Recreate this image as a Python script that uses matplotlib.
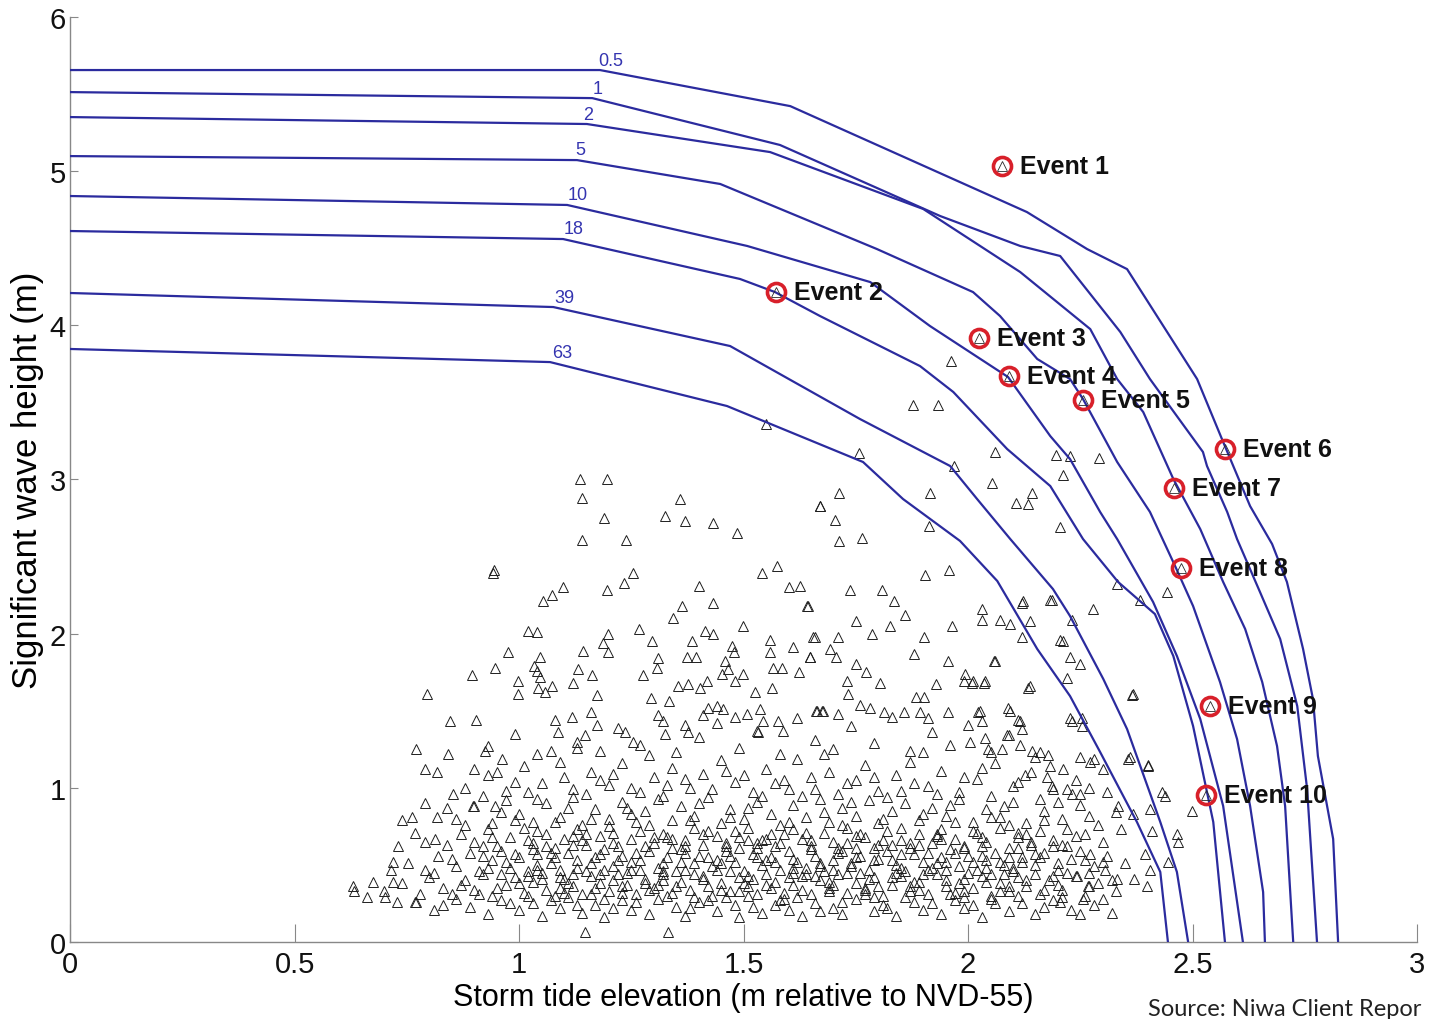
import numpy as np
import matplotlib.pyplot as plt

# joint return period contours (years) -> (storm tide m, Hs m)
curve_05 = [(0, 5.655), (1.180, 5.655), (1.604, 5.421), (2.131, 4.734), (2.265, 4.494), (2.354, 4.364),
            (2.510, 3.651), (2.568, 3.243), (2.628, 2.827), (2.677, 2.581), (2.710, 2.335), (2.746, 1.900),
            (2.768, 1.576), (2.779, 1.206), (2.813, 0.668), (2.824, 0)]
curve_1 = [(0, 5.512), (1.163, 5.473), (1.581, 5.169), (1.938, 4.708), (2.116, 4.514), (2.205, 4.449),
           (2.339, 3.956), (2.405, 3.651), (2.523, 3.178), (2.532, 3.087), (2.577, 2.789), (2.599, 2.613),
           (2.650, 2.270), (2.695, 1.965), (2.733, 1.530), (2.755, 0.992), (2.777, 0)]
curve_2 = [(0, 5.350), (1.151, 5.305), (1.559, 5.123), (1.900, 4.754), (2.116, 4.345), (2.272, 3.975),
           (2.332, 3.651), (2.390, 3.437), (2.457, 3.003), (2.517, 2.678), (2.568, 2.335), (2.617, 2.030),
           (2.655, 1.686), (2.688, 1.271), (2.706, 0.882), (2.724, 0)]
curve_5 = [(0, 5.097), (1.129, 5.071), (1.448, 4.916), (1.797, 4.494), (2.011, 4.215), (2.071, 4.060),
           (2.154, 3.781), (2.227, 3.651), (2.256, 3.521), (2.332, 3.113), (2.405, 2.789), (2.461, 2.438),
           (2.501, 2.179), (2.561, 1.686), (2.599, 1.316), (2.628, 0.882), (2.657, 0.324), (2.661, 0)]
curve_10 = [(0, 4.838), (1.107, 4.780), (1.508, 4.514), (1.782, 4.280), (1.915, 3.995), (2.089, 3.664),
            (2.183, 3.281), (2.227, 3.132), (2.294, 2.789), (2.332, 2.613), (2.412, 2.205), (2.465, 1.855),
            (2.517, 1.446), (2.568, 0.882), (2.612, 0)]
curve_18 = [(0, 4.611), (1.098, 4.559), (1.492, 4.300), (1.570, 4.215), (1.670, 4.060), (1.893, 3.735),
            (1.967, 3.567), (2.087, 3.197), (2.183, 2.957), (2.256, 2.613), (2.334, 2.335), (2.416, 2.127),
            (2.457, 1.855), (2.501, 1.401), (2.546, 0.778), (2.572, 0)]
curve_39 = [(0, 4.209), (1.076, 4.118), (1.470, 3.865), (1.759, 3.392), (1.960, 3.087), (2.020, 2.873),
            (2.094, 2.613), (2.189, 2.289), (2.227, 2.114), (2.301, 1.706), (2.354, 1.381), (2.428, 0.778),
            (2.465, 0.454), (2.490, 0)]
curve_63 = [(0, 3.846), (1.069, 3.761), (1.463, 3.476), (1.766, 3.113), (1.855, 2.873), (1.982, 2.601),
            (2.065, 2.341), (2.154, 1.900), (2.227, 1.595), (2.294, 1.232), (2.376, 0.778), (2.428, 0.454),
            (2.445, 0)]
curves = [curve_05, curve_1, curve_2, curve_5, curve_10, curve_18, curve_39, curve_63]
curve_labels = ["0.5", "1", "2", "5", "10", "18", "39", "63"]
label_x = [1.205, 1.174, 1.154, 1.136, 1.131, 1.122, 1.102, 1.096]
label_y = [5.66, 5.48, 5.31, 5.085, 4.795, 4.57, 4.125, 3.765]

# selected events
event_names = ["Event 1", "Event 2", "Event 3", "Event 4", "Event 5",
               "Event 6", "Event 7", "Event 8", "Event 9", "Event 10"]
event_x = [2.076, 1.572, 2.024, 2.091, 2.256, 2.572, 2.459, 2.474, 2.539, 2.530]
event_y = [5.03, 4.215, 3.917, 3.671, 3.515, 3.197, 2.944, 2.425, 1.530, 0.953]

# simulated events (sparse upper part, left)
upper_pts = [(1.136, 3.00), (1.196, 3.00), (1.140, 2.88), (1.189, 2.75), (1.140, 2.61), (1.238, 2.61),
             (1.359, 2.87), (1.325, 2.76), (1.370, 2.73), (1.432, 2.72), (1.485, 2.65), (1.670, 2.83),
             (0.942, 2.39), (0.945, 2.41), (1.054, 2.21), (1.073, 2.25), (1.098, 2.30), (1.196, 2.28),
             (1.234, 2.33), (1.254, 2.39), (1.401, 2.31), (1.432, 2.20), (1.363, 2.18), (1.343, 2.10),
             (1.541, 2.39), (1.575, 2.44), (1.601, 2.30), (1.626, 2.31), (1.641, 2.18), (1.020, 2.02),
             (1.040, 2.01), (0.975, 1.88), (1.047, 1.85), (1.033, 1.79), (1.040, 1.76), (0.947, 1.78),
             (0.895, 1.73), (0.795, 1.61), (0.998, 1.69), (0.998, 1.61), (1.047, 1.72), (1.042, 1.65),
             (1.058, 1.62), (1.073, 1.66), (1.131, 1.77), (1.163, 1.73), (1.120, 1.68), (1.143, 1.89),
             (1.198, 2.00), (1.187, 1.94), (1.198, 1.88), (1.267, 2.03), (1.296, 1.95), (1.385, 1.95),
             (1.374, 1.85), (1.394, 1.85), (1.310, 1.84), (1.307, 1.78), (1.276, 1.73), (1.414, 2.02),
             (1.432, 2.00), (1.499, 2.05), (1.474, 1.92), (1.479, 1.88), (1.459, 1.82), (1.465, 1.77),
             (1.452, 1.74), (1.499, 1.74), (1.481, 1.69), (1.559, 1.96), (1.559, 1.88), (1.610, 1.91),
             (1.655, 1.98), (1.648, 1.85), (1.566, 1.78), (1.586, 1.78), (1.624, 1.75), (1.354, 1.66),
             (1.376, 1.67), (1.403, 1.65), (1.419, 1.69), (1.526, 1.62), (1.563, 1.65), (1.174, 1.60),
             (1.294, 1.58), (1.334, 1.56), (0.846, 1.43), (0.904, 1.44), (0.771, 1.25), (0.842, 1.22),
             (0.924, 1.24), (0.962, 1.19), (0.791, 1.12), (0.817, 1.10), (0.951, 1.10), (0.853, 0.96),
             (0.791, 0.90), (0.840, 0.87), (0.898, 0.88), (0.947, 0.88), (0.739, 0.79), (0.762, 0.81),
             (0.817, 0.81), (0.731, 0.62), (0.768, 0.71), (0.791, 0.65), (0.813, 0.67), (0.715, 0.47),
             (0.675, 0.39), (0.630, 0.36), (0.632, 0.33), (0.661, 0.29), (0.702, 0.29), (0.728, 0.26),
             (0.768, 0.26), (0.753, 0.51), (0.719, 0.39), (1.147, 0.065), (1.332, 0.065), (1.118, 1.46),
             (1.160, 1.49), (1.174, 1.41), (1.087, 1.36), (1.147, 1.34), (1.129, 1.26), (1.236, 1.36),
             (1.254, 1.30), (1.321, 1.43), (1.370, 1.41), (1.376, 1.36), (1.325, 1.35), (1.421, 1.52),
             (1.441, 1.53), (1.454, 1.51), (1.410, 1.47), (1.481, 1.46), (1.508, 1.48), (1.537, 1.51),
             (1.543, 1.43), (1.532, 1.36), (1.577, 1.43), (1.588, 1.37), (1.664, 1.50), (1.677, 1.50),
             (1.550, 3.36)]

# simulated events (sparse upper part, middle)
mid_pts = [(1.878, 3.48), (1.933, 3.48), (1.962, 3.77), (1.757, 3.17), (1.969, 3.09), (2.060, 3.18),
           (2.196, 3.16), (2.227, 3.15), (2.292, 3.14), (2.212, 3.03), (2.053, 2.98), (2.143, 2.91),
           (2.107, 2.85), (2.134, 2.84), (1.713, 2.91), (1.670, 2.83), (1.704, 2.74), (1.915, 2.91),
           (1.913, 2.70), (2.205, 2.69), (1.713, 2.60), (1.764, 2.62), (1.904, 2.38), (1.958, 2.41),
           (1.737, 2.28), (1.808, 2.28), (1.835, 2.21), (1.644, 2.18), (2.120, 2.20), (2.183, 2.22),
           (1.860, 2.12), (1.751, 2.08), (1.826, 2.05), (1.786, 2.00), (1.710, 1.98), (1.659, 1.98),
           (1.964, 2.05), (1.902, 1.98), (1.880, 1.87), (1.955, 1.82), (2.058, 1.82), (1.693, 1.90),
           (1.648, 1.85), (1.706, 1.85), (1.751, 1.80), (1.773, 1.75), (1.804, 1.68), (1.929, 1.67),
           (1.991, 1.69), (2.009, 1.68), (2.036, 1.68), (1.731, 1.69), (1.733, 1.61), (1.884, 1.59),
           (1.902, 1.59), (2.134, 1.65), (2.365, 1.60), (1.661, 1.50), (1.675, 1.50), (1.710, 1.48),
           (1.759, 1.54), (1.782, 1.52), (1.813, 1.49), (1.857, 1.49), (1.893, 1.49), (1.911, 1.45),
           (1.955, 1.49), (2.022, 1.49), (2.089, 1.52), (2.111, 1.44), (2.227, 1.45), (2.254, 1.45),
           (2.281, 1.19), (2.356, 1.19), (2.401, 1.15), (2.432, 0.97)]

# simulated events (right flank)
right_pts = [(2.031, 2.16), (2.031, 2.09), (2.071, 2.09), (2.094, 2.06), (2.122, 2.21), (2.187, 2.22),
             (2.138, 2.08), (2.120, 1.98), (2.205, 1.96), (2.212, 1.95), (2.232, 2.09), (2.278, 2.16),
             (2.331, 2.32), (2.383, 2.22), (2.443, 2.27), (2.060, 1.82), (2.227, 1.85), (2.249, 1.80),
             (2.138, 1.66), (2.220, 1.71), (2.367, 1.61), (1.993, 1.74), (2.011, 1.69), (2.038, 1.69),
             (2.027, 1.50), (2.031, 1.43), (2.094, 1.50), (2.116, 1.43), (2.120, 1.38), (2.232, 1.43),
             (2.254, 1.40), (2.004, 1.30), (2.038, 1.32), (2.087, 1.34), (2.116, 1.28), (2.143, 1.24),
             (2.160, 1.23), (2.178, 1.21), (2.045, 1.25), (2.076, 1.25), (2.183, 1.14), (2.212, 1.12),
             (2.249, 1.20), (2.272, 1.17), (2.301, 1.12), (2.361, 1.20), (2.401, 1.14), (2.127, 1.08),
             (2.176, 1.07), (2.187, 1.01), (2.232, 0.96), (2.249, 0.96), (2.310, 0.97), (2.439, 0.95),
             (2.499, 0.85), (2.334, 0.88), (2.367, 0.83), (2.405, 0.86), (2.410, 0.72), (2.465, 0.70),
             (2.468, 0.65), (2.272, 0.57), (2.394, 0.57), (2.405, 0.47), (2.445, 0.52), (2.305, 0.47),
             (2.331, 0.41), (2.399, 0.36), (2.200, 0.51), (2.243, 0.43), (2.267, 0.36), (2.205, 0.26),
             (2.256, 0.28)]

# simulated events (dense core)
core_pts = [
    (0.77, 0.26), (0.81, 0.21), (0.86, 0.28), (0.89, 0.23), (0.93, 0.18), (0.96, 0.27), (1.00, 0.21),
    (1.03, 0.25), (1.05, 0.17), (1.09, 0.22), (1.11, 0.29), (1.14, 0.19), (1.17, 0.24), (1.19, 0.16),
    (1.23, 0.27), (1.25, 0.21), (1.29, 0.18), (1.31, 0.28), (1.35, 0.23), (1.37, 0.17), (1.40, 0.26),
    (1.44, 0.20), (1.46, 0.29), (1.49, 0.16), (1.52, 0.23), (1.54, 0.19), (1.58, 0.27), (1.60, 0.21),
    (1.63, 0.17), (1.66, 0.25), (1.70, 0.22), (1.72, 0.18), (1.75, 0.28), (1.79, 0.20), (1.81, 0.24),
    (1.84, 0.17), (1.88, 0.26), (1.90, 0.21), (1.94, 0.18), (1.97, 0.27), (1.99, 0.22), (2.03, 0.16),
    (2.05, 0.28), (2.09, 0.20), (2.12, 0.25), (2.15, 0.18), (2.19, 0.27), (2.23, 0.21), (2.28, 0.24),
    (2.32, 0.19),
    (0.70, 0.33), (0.74, 0.38), (0.78, 0.31), (0.80, 0.42), (0.83, 0.35), (0.85, 0.31), (0.88, 0.40),
    (0.90, 0.34), (0.92, 0.44), (0.94, 0.30), (0.97, 0.37), (0.99, 0.42), (1.01, 0.32), (1.03, 0.39),
    (1.05, 0.45), (1.06, 0.34), (1.08, 0.30), (1.10, 0.41), (1.12, 0.36), (1.14, 0.31), (1.16, 0.43),
    (1.18, 0.38), (1.20, 0.33), (1.22, 0.44), (1.24, 0.37), (1.26, 0.31), (1.28, 0.41), (1.30, 0.35),
    (1.32, 0.44), (1.34, 0.32), (1.36, 0.39), (1.38, 0.34), (1.41, 0.43), (1.43, 0.30), (1.45, 0.38),
    (1.47, 0.33), (1.49, 0.42), (1.51, 0.36), (1.53, 0.31), (1.55, 0.44), (1.57, 0.39), (1.59, 0.32),
    (1.61, 0.37), (1.63, 0.43), (1.65, 0.31), (1.67, 0.40), (1.69, 0.35), (1.71, 0.44), (1.73, 0.32),
    (1.75, 0.38), (1.77, 0.34), (1.79, 0.42), (1.81, 0.30), (1.83, 0.37), (1.85, 0.43), (1.87, 0.33),
    (1.89, 0.39), (1.91, 0.31), (1.93, 0.44), (1.95, 0.36), (1.97, 0.32), (1.99, 0.41), (2.01, 0.35),
    (2.03, 0.43), (2.05, 0.30), (2.07, 0.38), (2.09, 0.33), (2.11, 0.42), (2.13, 0.36), (2.16, 0.31),
    (2.18, 0.40), (2.21, 0.34), (2.24, 0.43), (2.26, 0.30), (2.29, 0.38), (2.33, 0.33), (2.37, 0.41),
    (0.72, 0.52), (0.79, 0.47), (0.82, 0.56), (0.86, 0.49), (0.89, 0.58), (0.91, 0.46), (0.94, 0.53),
    (0.96, 0.59), (0.98, 0.48), (1.00, 0.55), (1.02, 0.46), (1.04, 0.57), (1.07, 0.51), (1.09, 0.47),
    (1.11, 0.58), (1.13, 0.53), (1.15, 0.46), (1.17, 0.55), (1.19, 0.60), (1.21, 0.49), (1.23, 0.56),
    (1.25, 0.47), (1.27, 0.53), (1.29, 0.59), (1.31, 0.48), (1.33, 0.55), (1.35, 0.46), (1.37, 0.58),
    (1.39, 0.51), (1.42, 0.55), (1.44, 0.47), (1.46, 0.59), (1.48, 0.52), (1.50, 0.46), (1.52, 0.57),
    (1.54, 0.50), (1.56, 0.55), (1.58, 0.47), (1.60, 0.59), (1.62, 0.52), (1.64, 0.48), (1.66, 0.56),
    (1.68, 0.46), (1.70, 0.53), (1.72, 0.59), (1.74, 0.49), (1.76, 0.56), (1.78, 0.47), (1.80, 0.54),
    (1.82, 0.59), (1.84, 0.50), (1.86, 0.46), (1.88, 0.57), (1.90, 0.52), (1.92, 0.48), (1.94, 0.55),
    (1.96, 0.60), (1.98, 0.49), (2.00, 0.56), (2.02, 0.47), (2.04, 0.53), (2.06, 0.58), (2.08, 0.50),
    (2.10, 0.46), (2.12, 0.55), (2.15, 0.50), (2.17, 0.58), (2.20, 0.47), (2.23, 0.54), (2.25, 0.59),
    (2.28, 0.49), (2.31, 0.56), (2.35, 0.51),
    (0.84, 0.63), (0.87, 0.70), (0.90, 0.65), (0.93, 0.73), (0.95, 0.62), (0.98, 0.68), (1.01, 0.74),
    (1.03, 0.64), (1.06, 0.70), (1.08, 0.61), (1.10, 0.67), (1.13, 0.73), (1.15, 0.63), (1.18, 0.69),
    (1.20, 0.75), (1.22, 0.62), (1.25, 0.67), (1.27, 0.72), (1.30, 0.64), (1.32, 0.70), (1.34, 0.61),
    (1.37, 0.66), (1.39, 0.74), (1.41, 0.63), (1.44, 0.69), (1.46, 0.62), (1.48, 0.72), (1.51, 0.66),
    (1.53, 0.61), (1.56, 0.70), (1.58, 0.64), (1.61, 0.73), (1.63, 0.67), (1.65, 0.62), (1.68, 0.71),
    (1.70, 0.65), (1.73, 0.74), (1.75, 0.61), (1.77, 0.68), (1.80, 0.63), (1.82, 0.72), (1.85, 0.66),
    (1.87, 0.61), (1.89, 0.70), (1.92, 0.64), (1.94, 0.73), (1.97, 0.67), (1.99, 0.62), (2.02, 0.71),
    (2.04, 0.65), (2.07, 0.74), (2.09, 0.61), (2.11, 0.68), (2.14, 0.63), (2.16, 0.72), (2.19, 0.66),
    (2.22, 0.62), (2.26, 0.70), (2.30, 0.65), (2.34, 0.73),
    (0.86, 0.80), (0.90, 0.88), (0.94, 0.77), (0.97, 0.92), (1.00, 0.83), (1.03, 0.78), (1.06, 0.90),
    (1.09, 0.81), (1.12, 0.94), (1.14, 0.76), (1.17, 0.86), (1.20, 0.80), (1.23, 0.91), (1.26, 0.78),
    (1.28, 0.85), (1.31, 0.93), (1.34, 0.79), (1.36, 0.88), (1.39, 0.82), (1.42, 0.94), (1.45, 0.77),
    (1.47, 0.86), (1.50, 0.80), (1.53, 0.91), (1.56, 0.83), (1.58, 0.76), (1.61, 0.89), (1.64, 0.81),
    (1.67, 0.93), (1.69, 0.78), (1.72, 0.87), (1.75, 0.82), (1.78, 0.92), (1.80, 0.77), (1.83, 0.85),
    (1.86, 0.90), (1.89, 0.79), (1.92, 0.87), (1.95, 0.82), (1.98, 0.93), (2.01, 0.78), (2.04, 0.86),
    (2.07, 0.81), (2.10, 0.91), (2.13, 0.77), (2.17, 0.85), (2.21, 0.80), (2.25, 0.89), (2.29, 0.76),
    (2.33, 0.84),
    (0.88, 1.00), (0.93, 1.08), (0.97, 0.98), (1.01, 1.14), (1.05, 1.03), (1.09, 1.17), (1.12, 0.99),
    (1.16, 1.10), (1.20, 1.02), (1.23, 1.16), (1.27, 0.97), (1.30, 1.07), (1.34, 1.13), (1.38, 1.00),
    (1.41, 1.09), (1.45, 1.18), (1.48, 1.04), (1.52, 0.97), (1.55, 1.12), (1.59, 1.05), (1.62, 1.19),
    (1.66, 0.99), (1.69, 1.10), (1.73, 1.03), (1.77, 1.15), (1.80, 0.98), (1.84, 1.08), (1.87, 1.17),
    (1.91, 1.01), (1.94, 1.11), (1.98, 0.97), (2.02, 1.06), (2.06, 1.16), (2.10, 1.01), (2.14, 1.10),
    (2.19, 0.99), (2.24, 1.05),
    (0.93, 1.27), (0.99, 1.35), (1.04, 1.22), (1.08, 1.44), (1.13, 1.30), (1.18, 1.24), (1.22, 1.39),
    (1.27, 1.28), (1.31, 1.47), (1.35, 1.23), (1.40, 1.33), (1.44, 1.42), (1.49, 1.26), (1.53, 1.37),
    (1.58, 1.22), (1.62, 1.45), (1.66, 1.31), (1.70, 1.25), (1.74, 1.40), (1.79, 1.29), (1.83, 1.46),
    (1.87, 1.24), (1.92, 1.36), (1.96, 1.28), (2.00, 1.41), (2.05, 1.23), (2.09, 1.34),
    (1.02, 0.43), (1.06, 0.62), (1.11, 0.38), (1.16, 0.51), (1.21, 0.40), (1.26, 0.58), (1.31, 0.37),
    (1.36, 0.52), (1.41, 0.41), (1.46, 0.64), (1.50, 0.38), (1.55, 0.53), (1.60, 0.42), (1.65, 0.60),
    (1.70, 0.37), (1.74, 0.51), (1.78, 0.41), (1.83, 0.63), (1.88, 0.39), (1.93, 0.51), (1.98, 0.38),
    (2.03, 0.62), (2.08, 0.44), (2.12, 0.52), (1.04, 0.50), (1.14, 0.66), (1.24, 0.45), (1.34, 0.67),
    (1.44, 0.53), (1.54, 0.66), (1.64, 0.44), (1.73, 0.64), (1.84, 0.45), (1.94, 0.67), (2.04, 0.48),
    (2.14, 0.65), (0.96, 0.44), (0.92, 0.56), (1.09, 0.35), (1.19, 0.28), (1.29, 0.34), (1.39, 0.29),
    (1.49, 0.33), (1.59, 0.28), (1.69, 0.33), (1.79, 0.29), (1.89, 0.34), (1.99, 0.29), (2.09, 0.36),
    (2.19, 0.43)]

# more of the dense core
core_pts2 = [
    (0.83, 0.24), (0.91, 0.31), (0.98, 0.25), (1.02, 0.30), (1.07, 0.27), (1.13, 0.24), (1.16, 0.31),
    (1.21, 0.22), (1.26, 0.26), (1.33, 0.30), (1.38, 0.22), (1.42, 0.27), (1.48, 0.24), (1.51, 0.30),
    (1.57, 0.24), (1.62, 0.29), (1.67, 0.20), (1.72, 0.26), (1.77, 0.31), (1.82, 0.22), (1.86, 0.29),
    (1.92, 0.25), (1.96, 0.31), (2.01, 0.24), (2.06, 0.25), (2.11, 0.30), (2.17, 0.23), (2.21, 0.29),
    (2.25, 0.18), (2.30, 0.28),
    (0.81, 0.45), (0.87, 0.37), (0.93, 0.48), (1.00, 0.38), (1.04, 0.47), (1.09, 0.42), (1.13, 0.48),
    (1.18, 0.44), (1.23, 0.36), (1.27, 0.47), (1.32, 0.40), (1.37, 0.47), (1.42, 0.36), (1.47, 0.46),
    (1.52, 0.41), (1.56, 0.35), (1.61, 0.48), (1.66, 0.43), (1.70, 0.47), (1.76, 0.45), (1.80, 0.36),
    (1.85, 0.48), (1.90, 0.44), (1.95, 0.47), (2.00, 0.45), (2.04, 0.39), (2.10, 0.48), (2.15, 0.44),
    (2.20, 0.37), (2.27, 0.45), (2.32, 0.40),
    (0.85, 0.54), (0.92, 0.62), (0.97, 0.52), (1.03, 0.60), (1.08, 0.55), (1.12, 0.63), (1.18, 0.57),
    (1.22, 0.53), (1.28, 0.62), (1.32, 0.51), (1.36, 0.60), (1.40, 0.56), (1.45, 0.51), (1.49, 0.61),
    (1.53, 0.55), (1.57, 0.62), (1.61, 0.54), (1.67, 0.51), (1.71, 0.61), (1.75, 0.55), (1.79, 0.61),
    (1.83, 0.53), (1.87, 0.64), (1.91, 0.58), (1.95, 0.52), (1.99, 0.61), (2.03, 0.56), (2.07, 0.52),
    (2.11, 0.61), (2.16, 0.55), (2.21, 0.63), (2.26, 0.53),
    (0.88, 0.76), (0.94, 0.68), (0.99, 0.79), (1.04, 0.72), (1.08, 0.78), (1.12, 0.69), (1.16, 0.80),
    (1.21, 0.71), (1.25, 0.83), (1.29, 0.76), (1.33, 0.68), (1.38, 0.79), (1.42, 0.72), (1.47, 0.81),
    (1.51, 0.74), (1.55, 0.67), (1.60, 0.78), (1.64, 0.71), (1.68, 0.84), (1.72, 0.76), (1.76, 0.70),
    (1.81, 0.80), (1.85, 0.74), (1.90, 0.83), (1.93, 0.69), (1.97, 0.78), (2.01, 0.72), (2.05, 0.81),
    (2.09, 0.76), (2.13, 0.70), (2.17, 0.79), (2.22, 0.73), (2.27, 0.82),
    (0.92, 0.95), (0.99, 1.04), (1.04, 0.93), (1.10, 1.07), (1.15, 0.96), (1.21, 1.09), (1.25, 1.00),
    (1.32, 0.95), (1.37, 1.06), (1.43, 0.99), (1.50, 1.08), (1.54, 0.95), (1.60, 0.99), (1.65, 1.07),
    (1.71, 0.96), (1.75, 1.05), (1.82, 0.94), (1.88, 1.03), (1.93, 0.96), (1.99, 1.07), (2.05, 0.95),
    (2.11, 1.04), (2.16, 0.93), (2.22, 0.99)]

# densest band, third pass
core_pts3 = [
    (0.95, 0.35), (0.99, 0.57), (1.02, 0.66), (1.05, 0.41), (1.07, 0.58), (1.10, 0.32), (1.12, 0.44),
    (1.15, 0.70), (1.17, 0.35), (1.19, 0.47), (1.21, 0.64), (1.23, 0.32), (1.25, 0.52), (1.28, 0.38),
    (1.30, 0.68), (1.32, 0.46), (1.35, 0.36), (1.37, 0.62), (1.39, 0.44), (1.41, 0.70), (1.43, 0.49),
    (1.45, 0.34), (1.47, 0.56), (1.49, 0.68), (1.51, 0.43), (1.53, 0.64), (1.55, 0.37), (1.57, 0.52),
    (1.59, 0.70), (1.61, 0.45), (1.63, 0.34), (1.65, 0.66), (1.67, 0.49), (1.69, 0.39), (1.71, 0.58),
    (1.73, 0.45), (1.75, 0.69), (1.77, 0.35), (1.79, 0.53), (1.81, 0.66), (1.83, 0.42), (1.85, 0.57),
    (1.87, 0.36), (1.89, 0.63), (1.91, 0.47), (1.93, 0.70), (1.95, 0.40), (1.97, 0.58), (1.99, 0.33),
    (2.01, 0.52), (2.03, 0.68), (2.05, 0.44), (2.07, 0.33), (2.09, 0.55), (2.11, 0.71), (2.13, 0.40),
    (2.15, 0.57), (2.17, 0.34), (2.19, 0.62), (2.22, 0.45), (2.24, 0.69), (2.27, 0.36), (2.30, 0.52),
    (0.90, 1.12), (0.96, 0.84), (1.02, 0.97), (1.07, 1.24), (1.11, 0.87), (1.18, 1.05), (1.24, 0.87),
    (1.29, 1.21), (1.33, 1.02), (1.40, 0.90), (1.46, 1.11), (1.51, 0.87), (1.57, 1.03), (1.63, 0.95),
    (1.68, 1.22), (1.74, 0.91), (1.79, 1.07), (1.85, 0.98), (1.90, 1.23), (1.96, 0.89), (2.03, 1.13),
    (2.08, 0.88), (2.15, 1.20), (2.20, 0.91), (2.27, 1.00)]

plt.rcParams['font.family'] = ['Liberation Sans Narrow', 'Liberation Sans', 'DejaVu Sans']

fig = plt.figure(figsize=(14.3, 10.2), dpi=100)
ax = fig.add_axes([0.049, 0.0755, 0.942, 0.907])

pts = np.array(upper_pts + mid_pts + right_pts + core_pts + core_pts2 + core_pts3)
ax.plot(pts[:, 0], pts[:, 1], linestyle='none', marker='^', ms=7, mfc='none',
        mec='#1e1e1e', mew=0.7, zorder=2)

for c, lab, lx, ly in zip(curves, curve_labels, label_x, label_y):
    c = np.array(c)
    ax.plot(c[:, 0], c[:, 1], color='#2b2b9e', lw=1.6, zorder=3)
    ax.text(lx, ly, lab, color='#3434b0', fontsize=13, ha='center', va='bottom', zorder=4)

ax.plot(event_x, event_y, linestyle='none', marker='^', ms=7, mfc='none',
        mec='#2a2a2a', mew=0.6, zorder=4)
ax.plot(event_x, event_y, linestyle='none', marker='o', ms=13, mfc='none',
        mec='#d8202a', mew=2.6, zorder=5)
for name, ex, ey in zip(event_names, event_x, event_y):
    ax.annotate(name, (ex, ey), xytext=(13, 0), textcoords='offset points',
                fontsize=18, fontweight='bold', color='#111111', va='center', ha='left', zorder=6)

ax.set_xlim(0, 3)
ax.set_ylim(0, 6)
ax.set_xticks([0, 0.5, 1, 1.5, 2, 2.5, 3])
ax.set_xticklabels(["0", "0.5", "1", "1.5", "2", "2.5", "3"])
ax.set_yticks([0, 1, 2, 3, 4, 5, 6])
ax.set_yticklabels(["0", "1", "2", "3", "4", "5", "6"])
ax.tick_params(axis='x', direction='in', length=13, width=0.8, color='#888888',
               labelsize=21, pad=6, labelcolor='#111111')
ax.tick_params(axis='y', direction='in', length=6, width=0.8, color='#888888',
               labelsize=21, pad=3, labelcolor='#111111')
for s in ['top', 'right']:
    ax.spines[s].set_visible(False)
for s in ['left', 'bottom']:
    ax.spines[s].set_color('#888888')
    ax.spines[s].set_linewidth(1.0)

ax.set_xlabel("Storm tide elevation (m relative to NVD-55)", fontsize=22,
              family=['Liberation Sans', 'DejaVu Sans'], labelpad=3)
ax.set_ylabel("Significant wave height (m)", fontsize=25,
              family=['Liberation Sans', 'DejaVu Sans'], labelpad=4)

# the source note is cut at the right edge in the original picture
fig.text(1148 / 1430, 1 - 1016 / 1020, "Source: Niwa Client Repor", fontsize=17,
         family=['Lato', 'DejaVu Sans'], color='#222222', ha='left', va='baseline')

fig.savefig("out.png", dpi=100)
